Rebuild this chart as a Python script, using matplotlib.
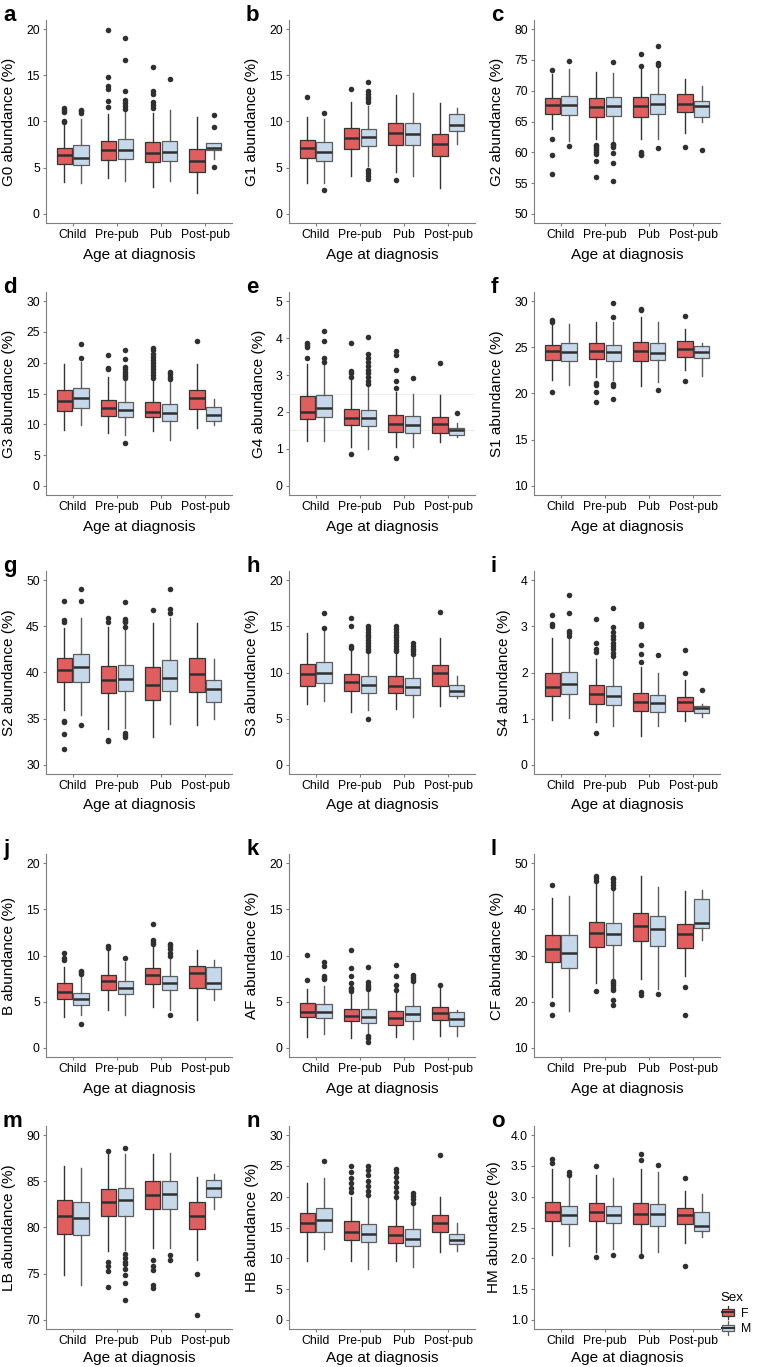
import matplotlib
matplotlib.use("Agg")
import matplotlib.pyplot as plt
import numpy as np
from matplotlib.patches import Rectangle, Patch
from matplotlib.lines import Line2D
from matplotlib.legend_handler import HandlerBase

plt.rcParams['font.family'] = ['Liberation Sans', 'DejaVu Sans']

ages = ["Child", "Pre-pub", "Pub", "Post-pub"]
sexes = ["F", "M"]
sex_fill = {"F": "#E05E5E", "M": "#C6D9EA"}
sex_edge = {"F": "#333333", "M": "#5c5c5c"}

# rows: Child F, Child M, Pre-pub F, Pre-pub M, Pub F, Pub M, Post-pub F, Post-pub M
# cols: q1, median, q3, lower whisker, upper whisker
G0 = [[5.39, 6.36, 7.18, 3.4, 9.7], [5.28, 6.07, 7.43, 3.3, 10.3],
      [5.82, 6.93, 7.90, 3.9, 10.8], [5.96, 6.93, 8.08, 3.6, 11.2],
      [5.64, 6.64, 7.83, 2.9, 10.9], [5.71, 6.71, 7.94, 3.6, 11.2],
      [4.56, 5.67, 7.00, 2.2, 10.5], [6.93, 7.15, 7.72, 5.9, 7.72]]
G0_out = [[9.9, 10.1, 11.0, 11.3, 11.5], [10.9, 11.1, 11.3],
          [11.6, 12.2, 13.5, 13.8, 14.8, 19.9], [11.4, 11.7, 12.0, 12.3, 13.3, 16.7, 19.0],
          [11.5, 11.8, 12.1, 13.0, 13.3, 15.9], [14.6], [], [5.05, 9.4, 10.7]]

G1 = [[6.00, 7.11, 7.97, 3.34, 10.52], [5.67, 6.68, 7.79, 3.30, 10.30],
      [7.00, 8.26, 9.34, 4.10, 12.10], [7.36, 8.37, 9.16, 5.20, 11.70],
      [7.43, 8.73, 9.87, 4.50, 12.90], [7.43, 8.62, 9.80, 4.10, 13.10],
      [6.28, 7.61, 8.69, 2.84, 11.96], [8.98, 9.62, 10.84, 7.54, 11.45]]
G1_out = [[12.64], [10.9, 2.55], [13.5],
          [12.1, 12.4, 12.7, 13.0, 13.3, 14.3, 3.8, 4.1, 4.4, 4.7], [3.7], [], [], []]

G2 = [[66.2, 67.7, 68.8, 63.8, 72.7], [66.0, 67.7, 69.1, 61.9, 73.5],
      [65.8, 67.35, 68.9, 62.1, 73.1], [65.9, 67.46, 69.0, 61.8, 72.9],
      [65.7, 67.5, 69.0, 62.1, 73.6], [66.3, 67.9, 69.4, 62.1, 74.0],
      [66.5, 67.8, 69.4, 63.1, 71.9], [65.8, 67.6, 68.3, 65.0, 70.8]]
G2_out = [[73.4, 62.2, 59.6, 56.4], [74.8, 61.0],
          [61.2, 61.0, 60.7, 60.3, 60.0, 59.7, 58.5, 56.0],
          [74.6, 61.4, 61.1, 60.9, 59.8, 58.2, 55.3],
          [74.1, 76.0, 60.0, 59.7, 59.5], [74.2, 74.5, 77.3, 60.7], [60.9], [60.3]]

G3 = [[12.23, 13.79, 15.62, 9.1, 19.77], [12.6, 14.22, 15.84, 9.96, 20.1],
      [11.42, 12.71, 14.0, 8.5, 17.7], [11.2, 12.33, 13.68, 8.2, 17.3],
      [11.2, 12.07, 13.57, 8.9, 17.3], [10.6, 11.85, 13.3, 7.4, 16.8],
      [12.5, 14.33, 15.57, 9.37, 19.77], [10.6, 11.53, 12.87, 9.96, 14.1]]
G3_out = [[], [20.7, 23.0], [19.0, 19.2, 21.2],
          [17.5, 17.8, 18.1, 18.5, 19.0, 19.3, 20.6, 22.1, 7.0],
          [17.6, 18.0, 18.5, 19.0, 19.5, 20.0, 20.5, 21.0, 21.5, 22.0, 22.4],
          [17.3, 17.7, 18.1, 18.5], [23.5], []]

G4 = [[1.80, 2.01, 2.42, 1.20, 3.29], [1.87, 2.10, 2.45, 1.22, 3.30],
      [1.65, 1.84, 2.08, 1.05, 2.90], [1.61, 1.83, 2.06, 1.00, 2.72],
      [1.45, 1.67, 1.92, 1.05, 2.55], [1.43, 1.66, 1.88, 1.04, 2.48],
      [1.43, 1.67, 1.87, 1.19, 2.45], [1.38, 1.51, 1.57, 1.33, 1.69]]
G4_out = [[3.47, 3.75, 3.82, 3.88], [3.35, 3.45, 3.92, 4.2],
          [2.95, 3.05, 3.12, 3.88, 0.86],
          [2.75, 2.85, 2.95, 3.05, 3.15, 3.25, 3.35, 3.45, 3.58, 4.02],
          [2.65, 2.85, 3.15, 3.55, 3.65, 0.75], [2.92], [3.33], [1.96]]

S1 = [[23.64, 24.65, 25.26, 21.5, 27.6], [23.57, 24.5, 25.5, 20.95, 27.5],
      [23.72, 24.65, 25.44, 21.8, 27.8], [23.57, 24.5, 25.26, 21.5, 27.8],
      [23.57, 24.6, 25.6, 20.8, 28.3], [23.64, 24.43, 25.44, 21.3, 27.8],
      [24.0, 24.8, 25.73, 22.5, 26.95], [23.8, 24.47, 25.2, 21.85, 25.5]]
S1_out = [[27.8, 28.0, 20.2], [], [21.1, 20.9, 20.2, 19.1],
          [21.0, 20.8, 19.4, 28.3, 29.8], [29.0, 29.2], [20.4], [28.4, 21.4], []]

S2 = [[38.97, 40.23, 41.53, 35.9, 44.85], [38.97, 40.63, 41.96, 35.4, 45.86],
      [37.82, 39.19, 40.7, 33.85, 44.92], [38.0, 39.3, 40.78, 34.0, 44.67],
      [37.06, 38.69, 40.6, 32.96, 45.4], [38.0, 39.44, 41.35, 34.4, 45.9],
      [37.93, 39.8, 41.53, 34.36, 45.4], [36.78, 38.2, 39.15, 35.0, 41.5]]
S2_out = [[45.5, 45.7, 47.8, 34.7, 34.6, 33.3, 31.7], [47.8, 49.0, 34.3],
          [45.5, 45.9, 32.6, 32.7], [44.9, 45.5, 45.6, 45.8, 47.6, 33.0, 33.2, 33.4],
          [46.8], [46.5, 46.9, 49.0], [], []]

S3 = [[8.56, 9.89, 10.9, 6.58, 14.28], [8.81, 10.0, 11.19, 6.94, 14.5],
      [8.02, 8.92, 9.82, 5.68, 12.34], [7.8, 8.67, 9.64, 5.9, 12.0],
      [7.73, 8.53, 9.6, 6.04, 12.0], [7.55, 8.38, 9.39, 5.14, 11.8],
      [8.56, 9.96, 10.86, 6.4, 13.78], [7.48, 7.95, 8.63, 7.23, 9.64]]
S3_out = [[], [14.8, 16.5], [12.7, 12.9, 15.0, 15.9],
          [12.3, 12.6, 12.9, 13.2, 13.5, 13.8, 14.1, 14.4, 14.7, 15.0, 5.0],
          [12.3, 12.6, 12.9, 13.2, 13.5, 13.8, 14.1, 14.4, 14.7, 15.0],
          [12.0, 12.3, 12.6, 12.9, 13.2], [16.6], []]

S4 = [[1.50, 1.68, 2.00, 0.96, 2.74], [1.53, 1.74, 2.02, 1.01, 2.72],
      [1.32, 1.53, 1.73, 0.92, 2.29], [1.30, 1.50, 1.71, 0.83, 2.30],
      [1.16, 1.35, 1.55, 0.62, 2.12], [1.14, 1.33, 1.51, 0.83, 2.00],
      [1.16, 1.35, 1.47, 0.94, 1.83], [1.12, 1.22, 1.27, 1.04, 1.32]]
S4_out = [[3.0, 3.05, 3.25], [2.8, 2.85, 2.9, 3.3, 3.68], [2.45, 2.5, 2.65, 3.17, 0.68],
          [2.35, 2.42, 2.5, 2.58, 2.65, 2.72, 2.8, 2.88, 2.99, 3.4],
          [2.22, 2.4, 2.6, 3.0, 3.05], [2.38], [1.98, 2.49], [1.62]]

B = [[5.33, 6.05, 7.03, 3.35, 8.76], [4.61, 5.33, 5.95, 3.53, 7.68],
     [6.23, 7.24, 7.93, 4.07, 10.7], [5.8, 6.52, 7.24, 3.6, 9.3],
     [6.92, 7.86, 8.69, 4.43, 11.0], [6.27, 7.03, 7.82, 4.07, 9.7],
     [6.49, 8.14, 8.83, 2.99, 10.6], [6.42, 6.99, 8.76, 5.15, 9.48]]
B_out = [[9.5, 9.7, 10.3], [8.0, 8.2, 8.3, 2.6], [10.8, 11.0], [9.75],
         [11.2, 11.5, 11.7, 13.4], [10.0, 10.3, 10.7, 11.0, 11.3, 3.6], [], []]

AF = [[3.35, 3.92, 4.82, 1.15, 6.37], [3.2, 3.92, 4.75, 1.51, 6.7],
      [2.88, 3.49, 4.2, 1.04, 5.83], [2.7, 3.38, 4.2, 1.51, 6.0],
      [2.48, 3.27, 3.96, 1.15, 6.0], [2.95, 3.63, 4.57, 0.9, 7.0],
      [3.02, 3.78, 4.39, 1.33, 6.6], [2.41, 3.17, 3.85, 1.33, 4.1]]
AF_out = [[7.35, 10.1], [7.4, 7.6, 7.8, 8.9, 9.3], [6.2, 6.35, 6.5, 7.0, 7.8, 8.6, 10.6],
          [6.4, 6.6, 6.8, 7.1, 8.7, 1.1, 1.3, 0.62], [6.3, 6.8, 7.8, 9.0],
          [7.2, 7.45, 7.7, 7.9], [6.8], []]

CF = [[28.6, 31.47, 34.49, 20.9, 42.46], [27.38, 30.6, 34.34, 17.9, 43.0],
      [31.83, 34.9, 37.36, 24.1, 46.0], [32.19, 34.7, 37.07, 24.9, 44.2],
      [33.12, 36.5, 39.23, 24.9, 47.13], [32.05, 35.64, 38.5, 22.7, 44.76],
      [31.54, 34.63, 36.86, 25.6, 43.9], [36.0, 37.07, 42.24, 33.3, 44.1]]
CF_out = [[45.3, 19.4, 17.0], [], [46.2, 46.8, 47.2, 22.3],
          [44.6, 45.2, 46.0, 46.5, 46.7, 24.5, 24.0, 23.5, 23.0, 22.5, 20.3, 19.3],
          [22.0, 21.5], [21.6], [23.1, 17.1], []]

LB = [[79.3, 81.2, 83.0, 74.8, 86.7], [79.2, 81.0, 82.8, 73.8, 86.4],
      [81.3, 82.8, 84.2, 77.5, 88.0], [81.3, 83.0, 84.3, 77.6, 88.0],
      [82.0, 83.5, 85.0, 77.8, 88.0], [82.0, 83.6, 85.0, 77.8, 88.1],
      [79.8, 81.2, 82.8, 76.5, 85.5], [83.3, 84.3, 85.2, 82.0, 85.8]]
LB_out = [[], [], [73.5, 75.3, 75.8, 76.3, 88.3],
          [72.1, 74.0, 74.8, 75.5, 76.0, 76.3, 76.7, 77.1, 88.6],
          [73.4, 73.8, 75.4, 75.8, 76.5], [76.5, 77.0], [70.5, 75.0], []]

HB = [[14.2, 15.8, 17.3, 9.5, 22.2], [14.3, 16.2, 18.1, 11.5, 23.0],
      [13.0, 14.3, 16.0, 9.6, 20.0], [12.7, 14.0, 15.6, 8.3, 19.8],
      [12.5, 13.7, 15.3, 9.5, 19.5], [12.0, 13.2, 14.8, 8.5, 18.5],
      [14.2, 15.7, 17.0, 11.0, 20.0], [12.3, 12.9, 14.0, 11.2, 15.7]]
HB_out = [[], [25.8], [20.8, 21.5, 22.2, 23.0, 24.0, 25.0],
          [20.3, 21.0, 21.8, 22.6, 23.5, 24.3, 25.0],
          [20.0, 20.8, 21.6, 22.4, 23.2, 24.0, 24.5], [19.0, 19.6, 20.2, 20.6], [26.8], []]

HM = [[2.60, 2.75, 2.92, 2.05, 3.45], [2.55, 2.70, 2.85, 2.20, 3.30],
      [2.60, 2.75, 2.90, 2.10, 3.35], [2.57, 2.70, 2.85, 2.15, 3.30],
      [2.55, 2.72, 2.90, 2.08, 3.45], [2.52, 2.72, 2.88, 2.10, 3.40],
      [2.55, 2.70, 2.82, 2.25, 3.10], [2.45, 2.52, 2.75, 2.35, 3.05]]
HM_out = [[3.55, 3.62], [3.36, 3.4], [2.02, 3.5], [2.05], [2.03, 3.6, 3.7], [3.52],
          [1.88, 3.3], []]

panels = [("a", "G0", G0, G0_out, (0, 20, 5)), ("b", "G1", G1, G1_out, (0, 20, 5)),
          ("c", "G2", G2, G2_out, (50, 80, 5)), ("d", "G3", G3, G3_out, (0, 30, 5)),
          ("e", "G4", G4, G4_out, (0, 5, 1)), ("f", "S1", S1, S1_out, (10, 30, 5)),
          ("g", "S2", S2, S2_out, (30, 50, 5)), ("h", "S3", S3, S3_out, (0, 20, 5)),
          ("i", "S4", S4, S4_out, (0, 4, 1)), ("j", "B", B, B_out, (0, 20, 5)),
          ("k", "AF", AF, AF_out, (0, 20, 5)), ("l", "CF", CF, CF_out, (10, 50, 10)),
          ("m", "LB", LB, LB_out, (70, 90, 5)), ("n", "HB", HB, HB_out, (0, 30, 5)),
          ("o", "HM", HM, HM_out, (1.0, 4.0, 0.5))]

W, H = 759, 1367
col_left = [46, 289, 534]
row_top = [20, 292, 571, 854, 1126]
aw, ah = 186, 203
axis_grey = "#7f7f7f"

fig = plt.figure(figsize=(W / 100, H / 100), dpi=100)

for k, (letter, name, st, outs, (lo, hi, step)) in enumerate(panels):
    r, c = divmod(k, 3)
    L, T = col_left[c], row_top[r]
    ax = fig.add_axes([L / W, 1 - (T + ah) / H, aw / W, ah / H])
    if name == "G4":
        for yy in (1.5, 2.5):
            ax.axhline(yy, color="#eeeeee", lw=0.8, zorder=0)
    for i in range(8):
        sex = sexes[i % 2]
        pos = i // 2 + 1 + (-0.19 if sex == "F" else 0.19)
        q1, med, q3, wlo, whi = st[i]
        stats = [dict(q1=q1, med=med, q3=q3, whislo=wlo, whishi=whi, fliers=outs[i])]
        ec = sex_edge[sex]
        ax.bxp(stats, positions=[pos], widths=0.34, patch_artist=True, showcaps=False,
               boxprops=dict(facecolor=sex_fill[sex], edgecolor=ec, linewidth=0.9),
               medianprops=dict(color="#303030", linewidth=1.8, solid_capstyle="butt"),
               whiskerprops=dict(color=ec, linewidth=1.0),
               flierprops=dict(marker="o", markersize=4.0, markerfacecolor="#303030",
                               markeredgecolor="none"),
               manage_ticks=False)
    span = hi - lo
    ax.set_ylim(lo - 0.05 * span, hi + 0.05 * span)
    ax.set_xlim(0.4, 4.6)
    yt = np.arange(lo, hi + step / 2, step)
    ax.set_yticks(yt)
    if name == "HM":
        ax.set_yticklabels(["%.1f" % v for v in yt])
    else:
        ax.set_yticklabels(["%g" % v for v in yt])
    ax.set_xticks([1, 2, 3, 4])
    ax.set_xticklabels(ages)
    for s in ("top", "right"):
        ax.spines[s].set_visible(False)
    for s in ("left", "bottom"):
        ax.spines[s].set_color(axis_grey)
        ax.spines[s].set_linewidth(0.8)
    ax.tick_params(length=2.5, width=0.8, color=axis_grey, pad=2, labelsize=8.8,
                   labelcolor="black")
    ax.set_ylabel(name + " abundance (%)", fontsize=11, labelpad=7)
    ax.set_xlabel("Age at diagnosis", fontsize=11, labelpad=4.5 if r < 4 else 2.5)
    fig.text((L - 43) / W, 1 - (T + 1) / H, letter, fontsize=16, fontweight="bold",
             va="baseline", ha="left")


class BoxKey(HandlerBase):
    def create_artists(self, legend, orig, xd, yd, width, height, fontsize, trans):
        x0, y0 = -xd, -yd
        cx = x0 + width / 2
        fc, ec = orig.get_facecolor(), orig.get_edgecolor()
        wl = Line2D([cx, cx], [y0, y0 + height * 0.25], color=ec, lw=0.9, transform=trans)
        wh = Line2D([cx, cx], [y0 + height * 0.75, y0 + height], color=ec, lw=0.9,
                    transform=trans)
        box = Rectangle((x0 + width * 0.12, y0 + height * 0.25), width * 0.76, height * 0.5,
                        facecolor=fc, edgecolor=ec, lw=0.9, transform=trans)
        med = Line2D([x0 + width * 0.12, x0 + width * 0.88], [y0 + height / 2] * 2,
                     color="#303030", lw=1.5, transform=trans)
        return [wl, wh, box, med]


handles = [Patch(facecolor=sex_fill[s], edgecolor=sex_edge[s]) for s in sexes]
leg = fig.legend(handles, sexes, loc="upper left", bbox_to_anchor=(720 / W, 1 - 1292 / H),
                 frameon=False, title="Sex", title_fontsize=9.5, fontsize=8.8,
                 handler_map={Patch: BoxKey()}, handlelength=1.3, handleheight=1.3,
                 handletextpad=0.4, labelspacing=0.15, borderpad=0, borderaxespad=0)
leg._legend_box.align = "left"

fig.savefig("out.png", dpi=100)
